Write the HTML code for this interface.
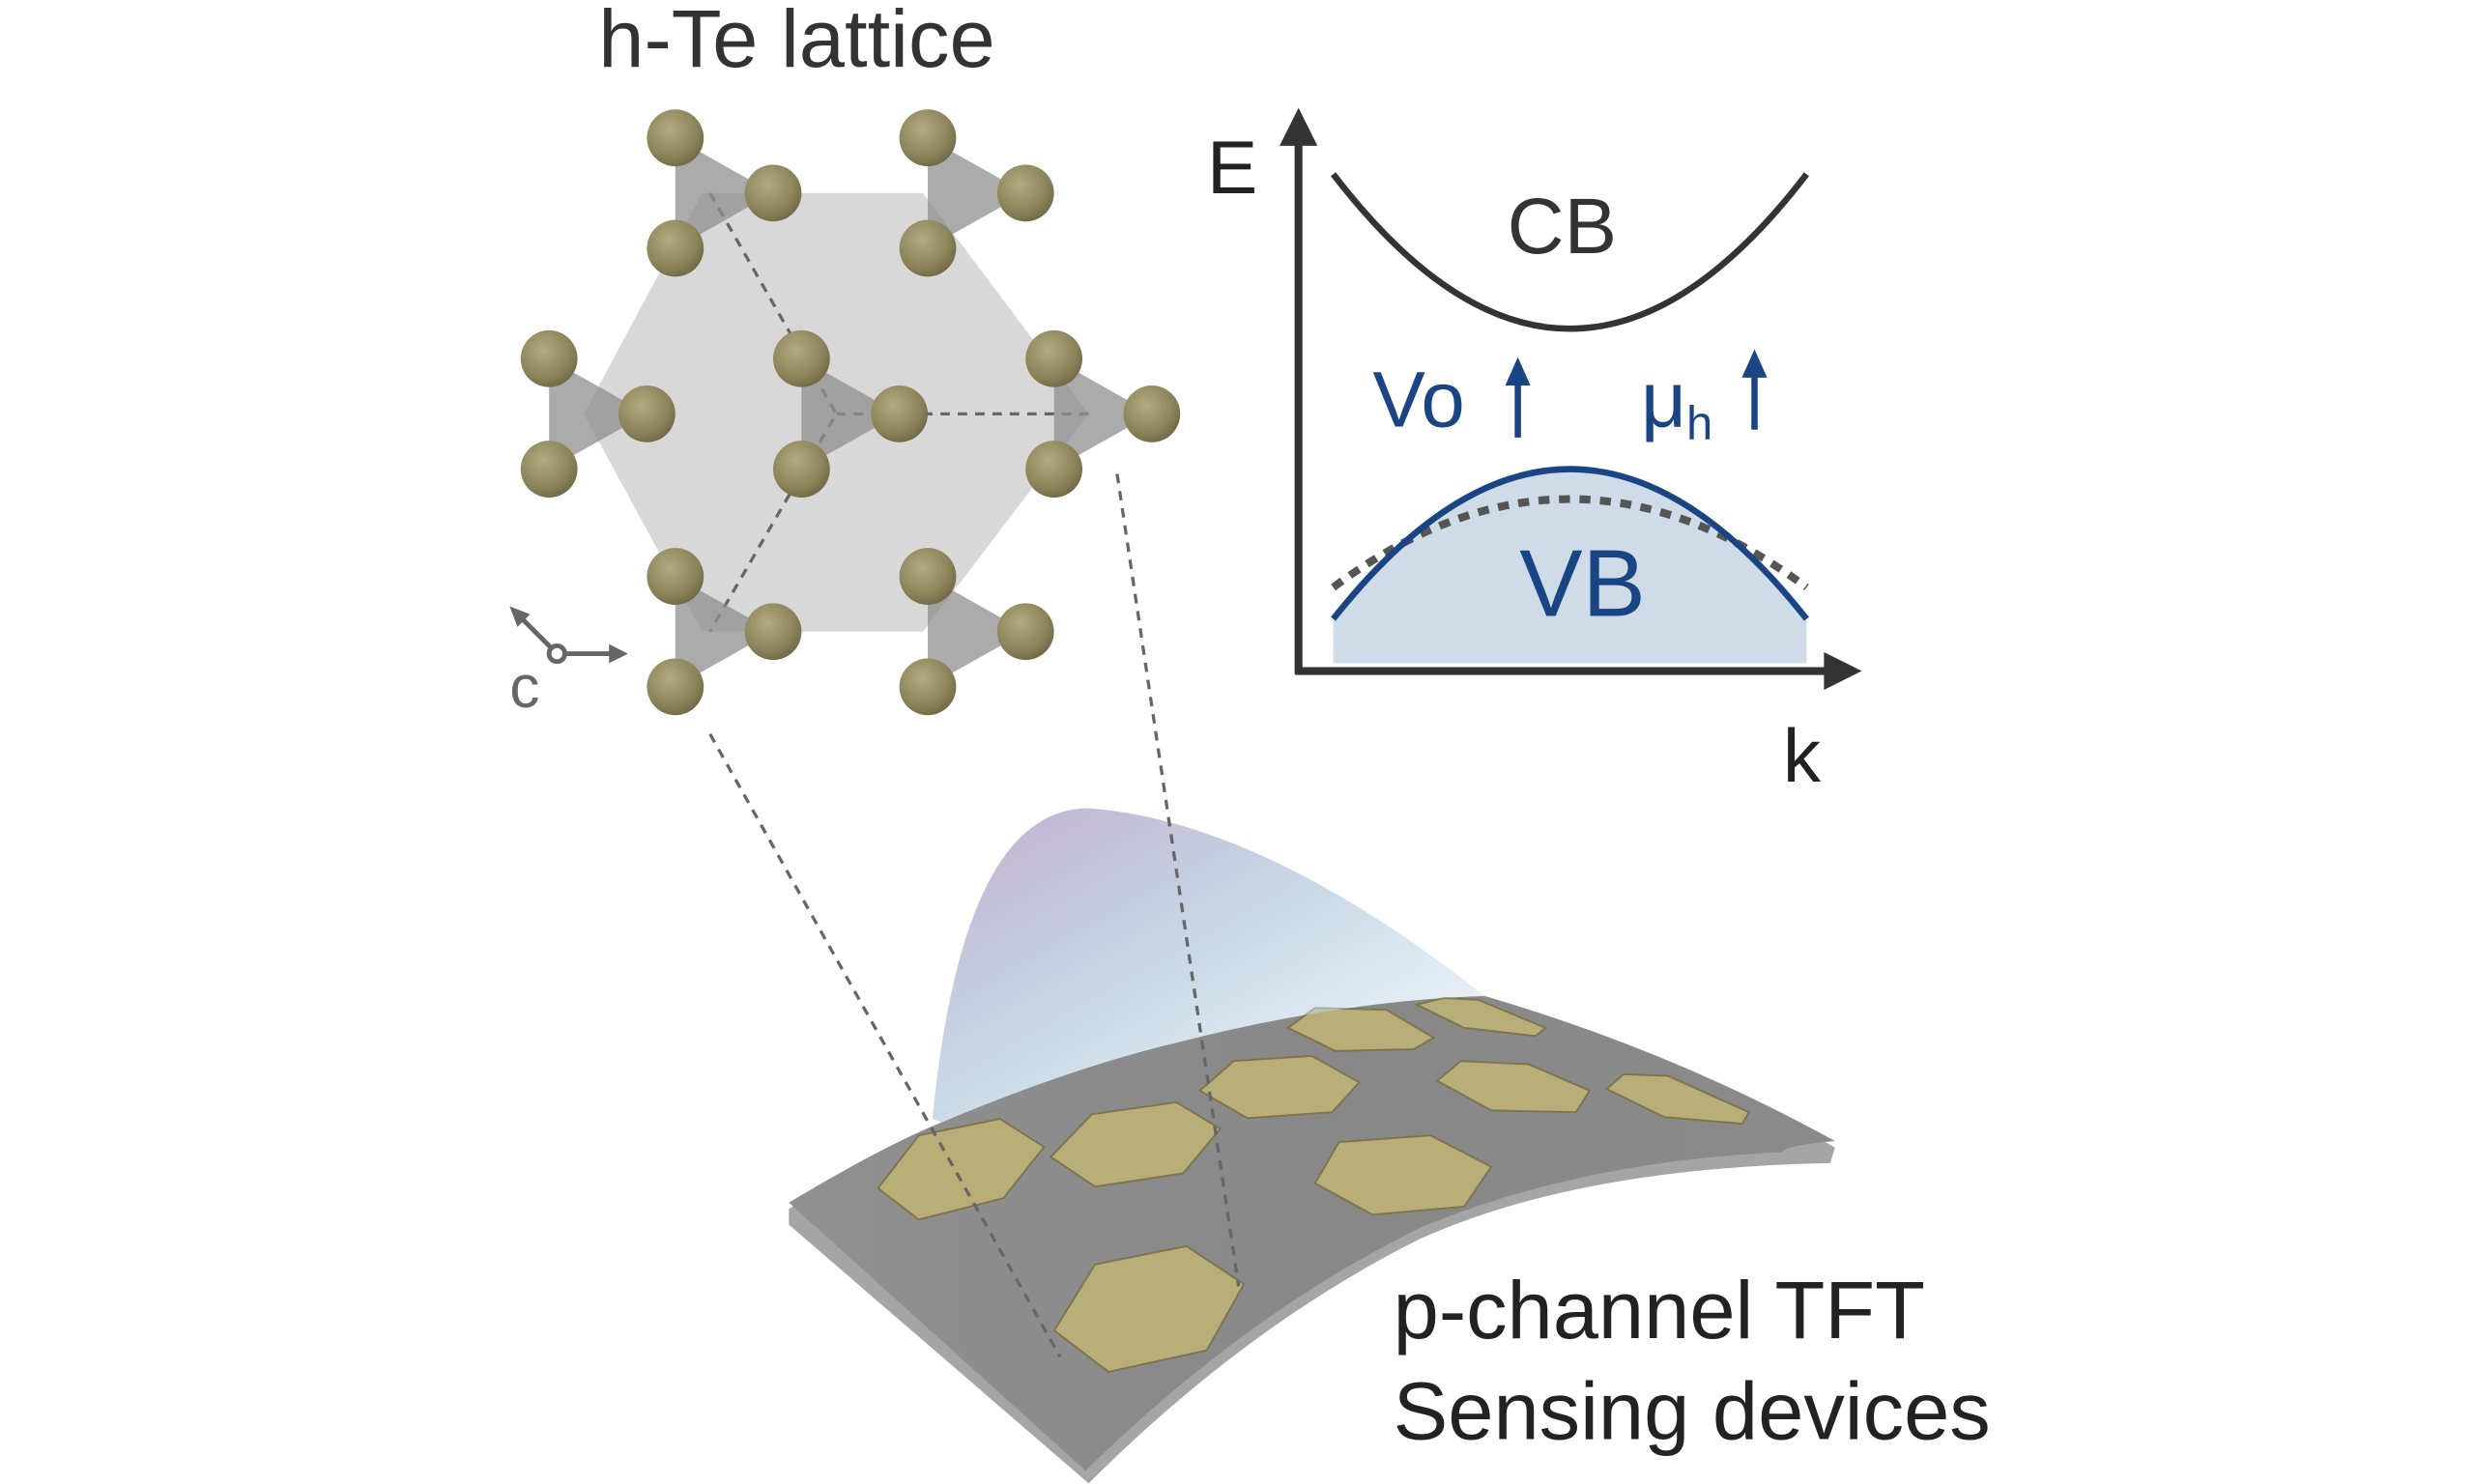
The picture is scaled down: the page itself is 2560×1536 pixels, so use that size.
<!DOCTYPE html>
<html><head><meta charset="utf-8"><style>
html,body{margin:0;padding:0;background:#fff;}
svg{display:block;}
text{font-family:"Liberation Sans",sans-serif;}
</style></head><body>
<svg width="2560" height="1536" viewBox="0 0 1568 940" xmlns="http://www.w3.org/2000/svg">
<defs>
<radialGradient id="ball" cx="0.4" cy="0.35" r="0.7">
<stop offset="0" stop-color="#b3aa80"/><stop offset="0.7" stop-color="#8a8258"/><stop offset="1" stop-color="#6d6644"/>
</radialGradient>
<linearGradient id="dome" x1="0" y1="0" x2="1" y2="1">
<stop offset="0" stop-color="#b9a3c9" stop-opacity="0.9"/><stop offset="0.5" stop-color="#b8cfe0" stop-opacity="0.75"/><stop offset="1" stop-color="#d8e6f0" stop-opacity="0.3"/>
</linearGradient>
<linearGradient id="sheet" x1="0" y1="0" x2="1" y2="0">
<stop offset="0" stop-color="#909090"/><stop offset="0.5" stop-color="#888"/><stop offset="1" stop-color="#8a8a8a"/>
</linearGradient>
<g id="mol">
<polygon points="-22,-35 40,0 -22,35" fill="#8f8f8f" opacity="0.75"/>
<circle cx="-22" cy="-35" r="18" fill="url(#ball)"/>
<circle cx="40" cy="0" r="18" fill="url(#ball)"/>
<circle cx="-22" cy="35" r="18" fill="url(#ball)"/>
</g>
</defs>

<text x="505" y="42" font-size="52" fill="#333" text-anchor="middle">h-Te lattice</text>

<polygon points="370,262 445,122 585,122 690,262 585,400 445,400" fill="#d4d4d4" opacity="0.9"/>
<g stroke="#666" stroke-width="2" stroke-dasharray="6,5" fill="none">
<polyline points="450,122 530,262 450,400"/>
<line x1="530" y1="262" x2="690" y2="262"/>
</g>
<use href="#mol" x="450" y="122"/>
<use href="#mol" x="610" y="122"/>
<use href="#mol" x="370" y="262"/>
<use href="#mol" x="530" y="262"/>
<use href="#mol" x="690" y="262"/>
<use href="#mol" x="450" y="400"/>
<use href="#mol" x="610" y="400"/>

<g stroke="#666" stroke-width="3" fill="none">
<line x1="328" y1="389" x2="349" y2="410"/>
<line x1="358" y1="414" x2="390" y2="414"/>
<circle cx="353" cy="414" r="5" fill="#fff"/>
</g>
<polygon points="323,384 336,389 328,397" fill="#666"/>
<polygon points="398,414 386,408 386,420" fill="#666"/>
<text x="323" y="448" font-size="38" fill="#666">c</text>

<path d="M845,392 Q995,202 1145,392 L1145,420 L845,420 Z" fill="#cfdbe7"/>
<path d="M845,372 Q995,260 1145,372" stroke="#555" stroke-width="5" stroke-dasharray="7,6" fill="none"/>
<path d="M845,392 Q995,202 1145,392" stroke="#1a4585" stroke-width="4" fill="none"/>
<path d="M845,110 Q995,306 1145,110" stroke="#333" stroke-width="4" fill="none"/>
<g stroke="#333" stroke-width="5"><line x1="823" y1="427" x2="823" y2="88"/><line x1="821" y1="425" x2="1160" y2="425"/></g>
<polygon points="823,68 811,92 835,92" fill="#333"/>
<polygon points="1180,425 1156,413 1156,437" fill="#333"/>
<text x="765" y="122" font-size="48" fill="#222">E</text>
<text x="1130" y="495" font-size="48" fill="#222">k</text>
<text x="990" y="160" font-size="50" fill="#333" text-anchor="middle">CB</text>
<text x="1003" y="390" font-size="60" fill="#1a4585" text-anchor="middle">VB</text>
<text x="870" y="270" font-size="50" fill="#1a4585">Vo</text>
<text x="1040" y="270" font-size="50" fill="#1a4585">μ<tspan font-size="30" dy="8">h</tspan></text>
<g stroke="#1a4585" stroke-width="4"><line x1="962" y1="277" x2="962" y2="240"/><line x1="1112" y1="272" x2="1112" y2="235"/></g>
<polygon points="962,226 954,244 970,244" fill="#1a4585"/>
<polygon points="1112,221 1104,239 1120,239" fill="#1a4585"/>

<path d="M500,766 Q560,730 597,715 Q680,680 748,664 Q850,638 941,635 Q1060,670 1163,727 L1160,737 Q1000,740 900,785 Q790,840 690,940 L500,776 Z" fill="#a5a5a5"/>
<path d="M500,762 Q560,726 597,711 Q680,676 748,660 Q850,634 941,631 Q1060,666 1163,723 Q1130,726 1130,730 Q1000,736 900,778 Q790,832 688,932 Z" fill="url(#sheet)"/>
<g fill="#b9ad78" stroke="#7d7450" stroke-width="1.2">
<polygon points="556.5,752.9 582.3,719.4 633.8,708.9 661.7,726.7 636,759.2 582.3,772.8"/>
<polygon points="666,733 692,706 745.5,698.4 773.4,715.2 749.8,743.5 694,751.9"/>
<polygon points="760.5,691 782,672.2 831.4,669 861.5,685.8 844.3,704.7 790.6,708.5"/>
<polygon points="816.4,651.2 833.5,638.6 878.7,639.7 908.7,657.5 895.9,664.8 846.4,665.9"/>
<polygon points="898,636.5 915.2,632.3 936.6,633.4 979.6,651.2 973.1,656.4 928,651.2"/>
<polygon points="910.9,684.8 925.9,672.2 968.9,674.3 1007.5,691 998.9,704.7 945.2,703.6"/>
<polygon points="1018.3,690 1029,680.6 1057,681.6 1108.5,704.7 1104.2,712 1054.8,707.8"/>
<polygon points="833.5,749.8 848.6,723.6 906.6,719.4 945.2,739.3 928,764.5 870,769.7"/>
<polygon points="668.2,843.1 694,801.2 752,789.6 788.4,813.7 764.8,855.7 702.5,869.3"/>
</g>
<path d="M591,709 Q610,512 690,512 Q800,520 941,631 Q850,634 748,660 Q680,676 597,711 Z" fill="url(#dome)"/>

<g stroke="#666" stroke-width="2" stroke-dasharray="6,5" fill="none">
<line x1="450" y1="465" x2="672" y2="860"/>
<line x1="708" y1="300" x2="785" y2="815"/>
</g>

<text x="883" y="848" font-size="52" fill="#222">p-channel TFT</text>
<text x="883" y="912" font-size="52" fill="#222">Sensing devices</text>
</svg>
</body></html>
